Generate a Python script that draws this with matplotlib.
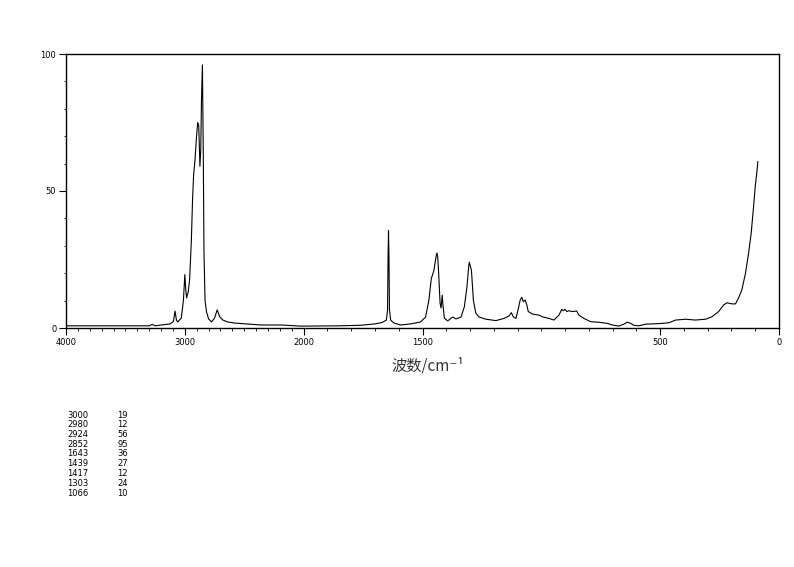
import numpy as np
import matplotlib.pyplot as plt

# Spectrum (wavenumber cm-1, intensity)
wavenumber = [4000, 3600, 3300, 3274, 3250, 3122, 3095, 3083, 3070, 3060, 3030, 3012,
              3000, 2992, 2985, 2980, 2972, 2960, 2945, 2935, 2926, 2915, 2903, 2892,
              2883, 2873, 2866, 2860, 2852, 2845, 2839, 2830, 2817, 2800, 2775, 2750,
              2728, 2705, 2680, 2640, 2580, 2490, 2360, 2190, 2030,
              1990, 1850, 1760, 1700, 1670, 1652, 1647, 1645, 1643, 1641, 1639, 1634,
              1620, 1592, 1550, 1508, 1487, 1473, 1463, 1452, 1443, 1439, 1436, 1432,
              1426, 1422, 1417, 1414, 1408, 1394, 1373, 1359, 1338, 1324, 1313, 1305,
              1303, 1294, 1286, 1276, 1262, 1233, 1191, 1157, 1136, 1126, 1118, 1107,
              1098, 1089, 1082, 1076, 1068, 1061, 1055, 1038, 1010, 996, 968, 947,
              926, 914, 908, 900, 893, 884, 870, 851, 842, 821, 792, 758, 723, 702,
              674, 653, 639, 624, 611, 590, 561, 506, 464, 435, 393, 351, 309, 282,
              254, 233, 219, 198, 183, 170, 156, 141, 128, 117, 107, 100, 93, 89]
intensity = [0.8, 0.8, 0.8, 1.3, 0.8, 1.5, 2.5, 6.2, 2.8, 2.2, 3.6, 10,
             19.5, 14, 11, 12, 13, 17.5, 32, 47, 56, 61, 69, 75,
             74, 59, 65, 83, 96, 65, 28, 10, 5.8, 3.3, 2.2, 3.6,
             6.6, 4, 2.9, 2.2, 1.8, 1.5, 1.1, 1.1, 0.7,
             0.7, 0.8, 1.0, 1.5, 2.0, 2.9, 6.6, 25.5, 35.5, 25.5, 6.6, 2.9,
             1.8, 1.1, 1.5, 2.2, 4, 10.2, 18, 21, 26, 27.4, 26, 20,
             9, 7.3, 12, 8.4, 3.6, 2.6, 4, 3.3, 4, 7.7, 15, 23,
             24, 21, 10.2, 5.5, 4, 3.2, 2.7, 3.5, 4.4, 5.6, 4.1, 3.5,
             6.6, 10.2, 11.2, 9.6, 10.2, 8.4, 6, 5.1, 4.7, 4.1, 3.5, 2.9,
             4.7, 6.8, 6.3, 6.8, 6, 6.3, 6, 6.2, 4.7, 3.5, 2.3, 2.1, 1.7, 1.1,
             0.7, 1.4, 2.1, 1.7, 1.0, 0.8, 1.4, 1.6, 1.9, 2.9, 3.2, 2.9, 3.2, 4.1,
             6, 8.4, 9.2, 8.8, 8.8, 11, 14, 20, 27.3, 34.6, 44.3, 51.6, 57, 60.7]

# Peak list printed under the chart
peak_pos = ['3000', '2980', '2924', '2852', '1643', '1439', '1417', '1303', '1066']
peak_val = ['19', '12', '56', '95', '36', '27', '12', '24', '10']

x_major = [4000, 3000, 2000, 1500, 500, 0]
y_major = [0, 50, 100]


# Scale is halved above 2000 cm-1
def fwd(x):
    x = np.asarray(x, dtype=float)
    return np.where(x > 2000, 2000 + (x - 2000) / 2, x)


def inv(y):
    y = np.asarray(y, dtype=float)
    return np.where(y > 2000, 2000 + (y - 2000) * 2, y)


fig = plt.figure(figsize=(7.94, 5.67), dpi=100)
ax = fig.add_axes([66 / 794, 1 - 328 / 567, 713 / 794, 274 / 567])
ax.set_xscale('function', functions=(fwd, inv))

ax.plot(wavenumber, intensity, color='black', linewidth=0.8)

ax.set_xlim(4000, 0)
ax.set_ylim(0, 100)
ax.set_xticks(x_major)
ax.set_xticks(np.arange(0, 4001, 100), minor=True)
ax.set_yticks(y_major)
ax.set_yticks(np.arange(0, 101, 10), minor=True)
ax.tick_params(axis='both', which='both', direction='out', labelsize=6, color='black')
ax.tick_params(axis='x', which='major', length=5, pad=2)
ax.tick_params(axis='x', which='minor', length=2.5)
ax.tick_params(axis='y', which='major', length=5, pad=2)
ax.tick_params(axis='y', which='minor', length=1.8)
for s in ax.spines.values():
    s.set_linewidth(1.0)

ax.set_xlabel('波数/cm⁻¹', fontsize=11, family=['Noto Sans CJK SC', 'DejaVu Sans'],
              va='center', color='#333333')
ax.xaxis.set_label_coords(0.508, -38 / 274)

# peak table
for i, (p, v) in enumerate(zip(peak_pos, peak_val)):
    y = 1 - (415 + i * 9.75) / 567
    fig.text(67 / 794, y, p, fontsize=6, va='center', ha='left')
    fig.text(117 / 794, y, v, fontsize=6, va='center', ha='left')

fig.savefig('out.png', dpi=100)
